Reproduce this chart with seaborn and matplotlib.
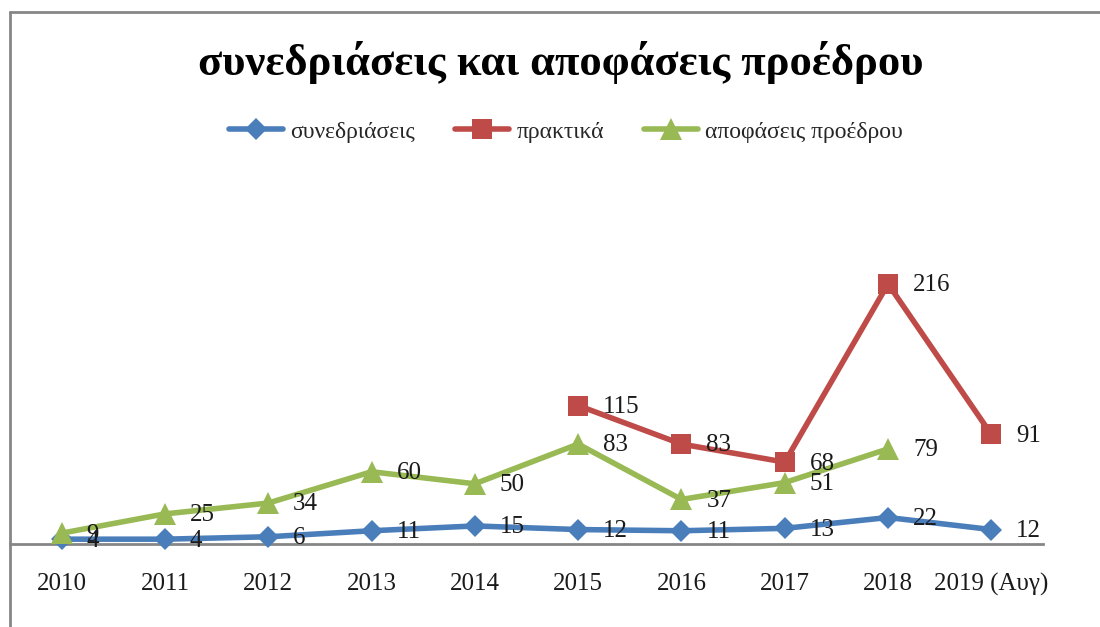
import numpy as np
import pandas as pd
import matplotlib
matplotlib.use("Agg")
import matplotlib.pyplot as plt
from matplotlib.lines import Line2D
import seaborn as sns

years = ["2010", "2011", "2012", "2013", "2014", "2015", "2016", "2017", "2018", "2019 (Αυγ)"]
synedriaseis = [4, 4, 6, 11, 15, 12, 11, 13, 22, 12]
praktika = [np.nan, np.nan, np.nan, np.nan, np.nan, 115, 83, 68, 216, 91]
apofaseis = [9, 25, 34, 60, 50, 83, 37, 51, 79, np.nan]

series = [
    ("συνεδριάσεις", synedriaseis, "#4A7EBB", "D", 11),
    ("πρακτικά", praktika, "#BE4B48", "s", 14),
    ("αποφάσεις προέδρου", apofaseis, "#98B954", "^", 16),
]

sns.set_theme(style="white")
plt.rcParams["font.family"] = ["Liberation Serif", "DejaVu Serif"]

W, H = 1100, 627
fig = plt.figure(figsize=(11, 6.27), dpi=100)
ax = fig.add_axes([10 / W, (H - 544) / H, (1043 - 10) / W, (544 - 243) / H])

df = pd.DataFrame({"x": np.arange(len(years)), "συνεδριάσεις": synedriaseis,
                   "πρακτικά": praktika, "αποφάσεις προέδρου": apofaseis})

for name, vals, color, marker, ms in series:
    sns.lineplot(data=df, x="x", y=name, ax=ax, color=color, lw=4,
                 marker=marker, markersize=ms, markeredgewidth=0,
                 label=name, clip_on=False, zorder=3)
    for i, v in enumerate(vals):
        if not np.isnan(v):
            ax.annotate(f"{v:g}", (i, v), xytext=(18, -1), textcoords="offset points",
                        ha="left", va="center", fontsize=18, color="#1a1a1a",
                        zorder=5, annotation_clip=False)

ax.set_xlim(-0.5, len(years) - 0.5)
ax.set_ylim(0, 250)
ax.set_xticks(range(len(years)))
ax.set_xticklabels(years, fontsize=18, color="#1a1a1a")
ax.set_yticks([])
ax.tick_params(axis="x", length=0, pad=21)
ax.set_xlabel("")
ax.set_ylabel("")
for s in ["top", "right", "left"]:
    ax.spines[s].set_visible(False)
ax.spines["bottom"].set_color("#868686")
ax.spines["bottom"].set_linewidth(2)

ax.legend(loc="center", bbox_to_anchor=(566 / W, (H - 132) / H),
          bbox_transform=fig.transFigure, ncol=3, frameon=False,
          fontsize=17, handlelength=2.3, columnspacing=1.7, handletextpad=0.3)

fig.suptitle("συνεδριάσεις και αποφάσεις προέδρου", x=561 / W, y=(H - 62) / H,
             va="center", fontsize=32, fontweight="bold", color="black")

# chart area frame
fig.add_artist(Line2D([10 / W, 1.0], [(H - 12) / H] * 2, transform=fig.transFigure,
                      color="#868686", lw=2))
fig.add_artist(Line2D([10 / W] * 2, [0, (H - 12) / H], transform=fig.transFigure,
                      color="#868686", lw=2))

fig.savefig("out.png", dpi=100, facecolor="white")
